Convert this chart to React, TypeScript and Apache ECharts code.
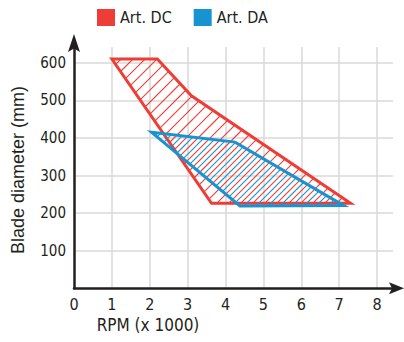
import React, { useEffect, useRef } from 'react';
import * as echarts from 'echarts';

// ---- data ----
const seriesNames = ['Art. DC', 'Art. DA'];
const artDCRpm = [1.0, 2.2, 3.1, 7.3, 3.63];
const artDCDiameter = [610, 610, 512, 226, 226];
const artDARpm = [2.05, 4.25, 7.12, 4.38];
const artDADiameter = [415, 389, 220, 219];
const xTickLabels = [0, 1, 2, 3, 4, 5, 6, 7, 8];
const yTickLabels = [100, 200, 300, 400, 500, 600];
const xMax = 8.42;
const yMax = 642;
const xTitle = 'RPM (x 1000)';
const yTitle = 'Blade diameter (mm)';

const RED = '#ee3d36';
const BLUE = '#1893d1';
const INK = '#231f20';
const NARROW = "'Liberation Sans Narrow', 'DejaVu Sans Condensed', 'Liberation Sans', sans-serif";
const REGULAR = "'Liberation Sans', Arial, sans-serif";

function makeRender(xs: number[], ys: number[], color: string, phase: number) {
  return (params: any, api: any) => {
    if (params.dataIndex !== 0) return null;
    const pts: number[][] = xs.map((x, i) => api.coord([x, ys[i]]));
    const sums = pts.map((p) => p[0] + p[1]);
    const minS = Math.min(...sums);
    const maxS = Math.max(...sums);
    const step = 12;
    const children: any[] = [];
    for (let c = Math.ceil((minS - phase) / step) * step + phase; c <= maxS; c += step) {
      const hits: number[][] = [];
      for (let i = 0; i < pts.length; i++) {
        const p = pts[i];
        const q = pts[(i + 1) % pts.length];
        const fp = p[0] + p[1] - c;
        const fq = q[0] + q[1] - c;
        if ((fp < 0) !== (fq < 0)) {
          const t = fp / (fp - fq);
          hits.push([p[0] + t * (q[0] - p[0]), p[1] + t * (q[1] - p[1])]);
        }
      }
      hits.sort((a, b) => a[0] - b[0]);
      for (let k = 0; k + 1 < hits.length; k += 2) {
        children.push({
          type: 'line',
          shape: { x1: hits[k][0], y1: hits[k][1], x2: hits[k + 1][0], y2: hits[k + 1][1] },
          style: { stroke: color, lineWidth: 1.1 },
        });
      }
    }
    children.push({
      type: 'polygon',
      shape: { points: pts },
      style: { fill: 'none', stroke: color, lineWidth: 3, lineJoin: 'miter' },
    });
    return { type: 'group', children };
  };
}

export default function App() {
  const ref = useRef<HTMLDivElement>(null);
  useEffect(() => {
    if (!ref.current) return;
    const chart = echarts.init(ref.current, null, { renderer: 'svg' });
    const axisCommon = {
      type: 'value',
      min: 0,
      axisTick: { show: false },
      splitLine: {
        show: true,
        showMinLine: false,
        showMaxLine: false,
        lineStyle: { color: '#d9d9d9', width: 1.5 },
      },
      axisLine: { show: true, lineStyle: { color: INK, width: 2.5 } },
    };
    chart.setOption({
      animation: false,
      backgroundColor: '#ffffff',
      legend: {
        data: seriesNames,
        left: 97,
        top: 9,
        icon: 'rect',
        itemWidth: 18,
        itemHeight: 17,
        itemGap: 22,
        padding: 0,
        textStyle: { fontFamily: NARROW, fontSize: 16, color: INK },
      },
      grid: { left: 74, top: 47, width: 319, height: 241.3, outerBoundsMode: 'none' },
      xAxis: {
        ...axisCommon,
        max: xMax,
        interval: 1,
        axisLabel: {
          margin: 8,
          fontFamily: NARROW,
          fontSize: 16,
          color: INK,
          formatter: (v: number) => (xTickLabels.indexOf(v) >= 0 ? String(v) : ''),
        },
      },
      yAxis: {
        ...axisCommon,
        max: yMax,
        interval: 100,
        axisLabel: {
          margin: 8,
          fontFamily: NARROW,
          fontSize: 15,
          color: INK,
          formatter: (v: number) => (yTickLabels.indexOf(v) >= 0 ? String(v) : ''),
        },
      },
      series: [
        {
          name: seriesNames[0],
          type: 'custom',
          clip: false,
          itemStyle: { color: RED },
          encode: { x: 0, y: 1 },
          data: artDCRpm.map((x, i) => [x, artDCDiameter[i]]),
          renderItem: makeRender(artDCRpm, artDCDiameter, RED, 0),
        },
        {
          name: seriesNames[1],
          type: 'custom',
          clip: false,
          itemStyle: { color: BLUE },
          encode: { x: 0, y: 1 },
          data: artDARpm.map((x, i) => [x, artDADiameter[i]]),
          renderItem: makeRender(artDARpm, artDADiameter, BLUE, 6),
        },
      ],
    });
    // axis arrowheads just beyond the ends of the axes
    const end = chart.convertToPixel({ gridIndex: 0 }, [xMax, yMax]);
    const origin = chart.convertToPixel({ gridIndex: 0 }, [0, 0]);
    const ox = origin[0];
    const oy = origin[1];
    const xEnd = end[0];
    const yEnd = end[1];
    chart.setOption({
      graphic: [
        {
          type: 'line',
          shape: { x1: xEnd - 1, y1: oy, x2: xEnd + 3, y2: oy },
          style: { stroke: INK, lineWidth: 2.5 },
        },
        {
          type: 'polygon',
          shape: {
            points: [
              [xEnd + 11, oy],
              [xEnd - 4, oy - 6],
              [xEnd - 1, oy],
              [xEnd - 4, oy + 6],
            ],
          },
          style: { fill: INK },
        },
        {
          type: 'line',
          shape: { x1: ox, y1: yEnd + 1, x2: ox, y2: yEnd - 2 },
          style: { stroke: INK, lineWidth: 2.5 },
        },
        {
          type: 'polygon',
          shape: {
            points: [
              [ox, yEnd - 13],
              [ox - 6, yEnd + 5],
              [ox, yEnd + 1.5],
              [ox + 6, yEnd + 5],
            ],
          },
          style: { fill: INK },
        },
        {
          type: 'text',
          x: 148,
          y: 325,
          style: {
            text: xTitle,
            fontFamily: NARROW,
            fontSize: 17,
            fill: INK,
            align: 'center',
            verticalAlign: 'middle',
          },
        },
        {
          type: 'text',
          x: 18,
          y: 170,
          rotation: Math.PI / 2,
          style: {
            text: yTitle,
            fontFamily: REGULAR,
            fontSize: 18,
            fill: INK,
            align: 'center',
            verticalAlign: 'middle',
          },
        },
      ],
    });
    return () => chart.dispose();
  }, []);
  return <div ref={ref} style={{ width: 404, height: 342, position: 'absolute', left: 0, top: 0 }} />;
}
